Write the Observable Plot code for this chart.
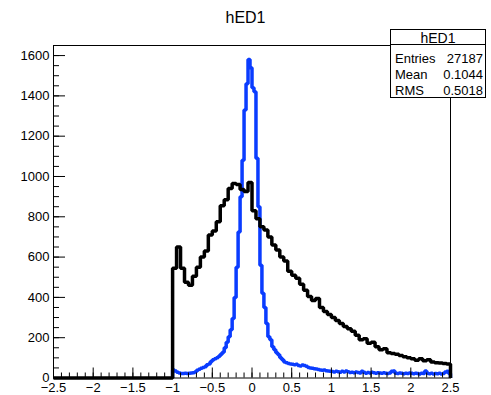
<!DOCTYPE html>
<html><head><meta charset="utf-8">
<script src="https://cdn.jsdelivr.net/npm/d3@7"></script>
<script src="https://cdn.jsdelivr.net/npm/@observablehq/plot@0.6"></script>
<style>
body{margin:0;background:#fff;font-family:"Liberation Sans",Arial,Helvetica,sans-serif;}
#wrap{position:relative;width:491px;height:395px;overflow:hidden;}
#wrap svg{position:absolute;left:0;top:0;}
.t{position:absolute;white-space:nowrap;color:#000;}
</style></head>
<body>
<div id="wrap"></div>
<script>
// ---- data ----
const title = "hED1";
const statsLabels = ["Entries", "Mean", "RMS"];
const statsValues = ["27187", "0.1044", "0.5018"];

// black histogram: 0.05-wide bins from -1 to 2.5
const blackLo = -1, blackWidth = 0.05;
const blackCounts = [
  545, 650, 545, 475, 460, 505, 550, 600, 630, 710,
  730, 775, 855, 885, 940, 965, 960, 935, 925, 970,
  830, 790, 750, 735, 700, 660, 635, 600, 580, 530,
  510, 495, 465, 435, 405, 385, 395, 350, 330, 315,
  300, 285, 270, 255, 245, 232, 212, 190, 195, 172,
  178, 155, 140, 145, 125, 122, 118, 112, 105, 100,
  95, 88, 95, 86, 90, 80, 76, 74, 72, 70
];
// blue histogram: 0.025-wide bins from -1 to 2.5
const blueLo = -1, blueWidth = 0.025;
const blueCounts = [
  40, 35, 28, 25, 22, 22, 24, 22, 23, 25,
  26, 30, 38, 44, 48, 52, 56, 66, 70, 82,
  90, 96, 100, 108, 118, 128, 150, 178, 205, 240,
  295, 400, 550, 725, 900, 1080, 1330, 1460, 1580, 1540,
  1440, 1420, 1090, 850, 560, 420, 350, 270, 205, 190,
  155, 140, 125, 115, 100, 90, 80, 76, 72, 70,
  68, 66, 68, 62, 60, 64, 62, 58, 52, 50,
  48, 46, 45, 42, 40, 38, 40, 36, 35, 34,
  32, 30, 34, 31, 29, 33, 30, 35, 31, 27,
  29, 26, 30, 27, 25, 34, 28, 24, 27, 25,
  28, 26, 24, 26, 25, 23, 26, 24, 22, 25,
  33, 35, 24, 22, 25, 23, 21, 24, 22, 25,
  23, 21, 24, 22, 20, 23, 22, 35, 24, 21,
  23, 20, 22, 21, 24, 20, 22, 30, 33, 22
];

const xDomain = [-2.5, 2.5];
const yDomain = [0, 1650];
const xMajor = [-2.5, -2, -1.5, -1, -0.5, 0, 0.5, 1, 1.5, 2, 2.5];
const xTickLabels = ["\u22122.5", "\u22122", "\u22121.5", "\u22121", "\u22120.5", "0", "0.5", "1", "1.5", "2", "2.5"];
const xMinor = d3.range(-25, 26).map(i => i / 10);
const yMajor = [0, 200, 400, 600, 800, 1000, 1200, 1400, 1600];
const yTickLabels = ["0", "200", "400", "600", "800", "1000", "1200", "1400", "1600"];
const yMinor = d3.range(0, 1651, 50);

// build step outlines from bins
function outline(start, lo, width, counts) {
  const pts = [{x: start, y: 0}, {x: lo, y: 0}];
  counts.forEach((v, i) => {
    pts.push({x: lo + i * width, y: v});
    pts.push({x: lo + (i + 1) * width, y: v});
  });
  pts.push({x: lo + counts.length * width, y: 0});
  return pts;
}
const blackPts = outline(xDomain[0], blackLo, blackWidth, blackCounts);
const bluePts = outline(blueLo, blueLo, blueWidth, blueCounts);

const font = "Liberation Sans, Arial, Helvetica, sans-serif";
const chart = Plot.plot({
  width: 491, height: 395,
  marginLeft: 53, marginRight: 41, marginTop: 45, marginBottom: 17.5,
  x: {domain: xDomain},
  y: {domain: yDomain},
  style: {fontFamily: font, fontSize: "13px", background: "white", color: "black"},
  marks: [
    Plot.line(bluePts, {x: "x", y: "y", stroke: "#0a3cff", strokeWidth: 3.5, strokeLinejoin: "miter", strokeLinecap: "butt"}),
    Plot.line(blackPts, {x: "x", y: "y", stroke: "black", strokeWidth: 3.5, strokeLinejoin: "miter", strokeLinecap: "butt"}),
    Plot.frame({stroke: "black", strokeWidth: 1}),
    Plot.axisY(yMinor, {tickSize: -6, fill: "none", label: null, stroke: "black"}),
    Plot.axisY(yMajor, {tickSize: -12, fill: "none", label: null, stroke: "black"}),
    Plot.axisY(yMajor, {tickSize: 0, tickPadding: 4, label: null, tickFormat: (d, i) => yTickLabels[i], fill: "black", fontSize: 13}),
    Plot.axisX(xMinor, {tickSize: -5, fill: "none", label: null, stroke: "black"}),
    Plot.axisX(xMajor, {tickSize: -10, fill: "none", label: null, stroke: "black"}),
    Plot.axisX(xMajor, {tickSize: 0, tickPadding: 5, label: null, tickFormat: (d, i) => xTickLabels[i], fill: "black", fontSize: 13})
  ]
});
const wrap = document.getElementById("wrap");
wrap.appendChild(chart);

function addText(txt, style) {
  const d = document.createElement("div");
  d.className = "t";
  d.textContent = txt;
  Object.assign(d.style, style);
  wrap.appendChild(d);
  return d;
}
// title
addText(title, {left: "0px", width: "491px", textAlign: "center", top: "9.5px", fontSize: "16px", lineHeight: "16px"});
// stats box
const box = document.createElement("div");
Object.assign(box.style, {position: "absolute", left: "390px", top: "29px", width: "94px", height: "67px", border: "1px solid black", background: "white"});
wrap.appendChild(box);
const sep = document.createElement("div");
Object.assign(sep.style, {position: "absolute", left: "390px", top: "44px", width: "96px", height: "1px", background: "black"});
wrap.appendChild(sep);
addText(title, {left: "390px", width: "96px", textAlign: "center", top: "30.5px", fontSize: "14px", lineHeight: "14px"});
const rowTops = [51.5, 68, 84];
statsLabels.forEach((lab, i) => {
  addText(lab, {left: "395px", top: rowTops[i] + "px", fontSize: "13px", lineHeight: "13px"});
  addText(statsValues[i], {left: "420px", width: "63px", textAlign: "right", top: rowTops[i] + "px", fontSize: "13px", lineHeight: "13px"});
});
</script>
</body></html>
